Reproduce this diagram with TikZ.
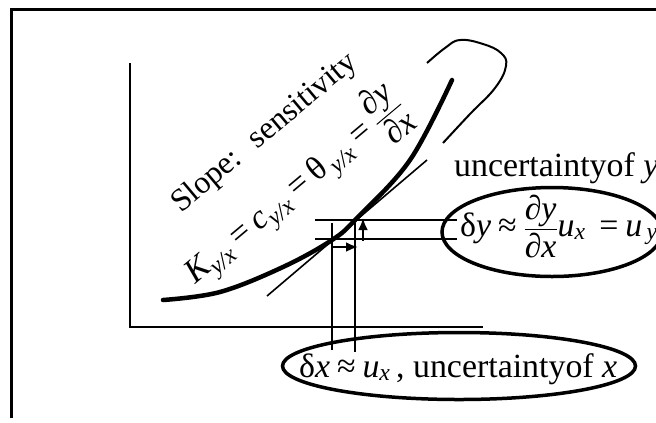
\documentclass[tikz,border=0pt]{standalone}
\usepackage{amsmath}
\usepackage{fontspec}
\setmainfont{Liberation Serif}
\usetikzlibrary{arrows.meta,shapes.geometric}
\newcommand{\iv}[1]{\text{\itshape #1}}
\newcommand{\apx}{\mathrel{\text{≈}}}
\newcommand{\eqs}{\mathrel{\text{=}}}

\begin{document}
\begin{tikzpicture}[x=1bp,y=-1bp,
  guide/.style={line width=2bp},
  oval/.style={draw, ellipse, line width=3.5bp, inner sep=0pt},
  lbl/.style={font=\fontsize{34}{36}\selectfont, inner sep=0pt},
  tip/.style={-{Latex[length=12bp,width=10bp]}, line width=2.5bp}]
  \useasboundingbox (0,0) rectangle (656,422);
  % frame and axes
  \draw[line width=3bp] (11,418) -- (11,9) -- (660,9);
  \draw[line width=2.2bp] (130,63) -- (130,327) -- (483,327);
  % curve, tangent and hook
  \draw[line width=4.5bp, line cap=round] plot[smooth, tension=0.6] coordinates {(163,300) (220,292) (283,267) (332,240) (357,218) (410,160) (452,80)};
  \coordinate (ta) at (267,296);
  \coordinate (tb) at (427,160);
  \draw[line width=1.6bp] (ta) -- (tb);
  \draw[line width=2bp] plot[smooth, tension=0.7] coordinates {(427,63) (445,48) (460,40) (483,44) (501,53) (506,66) (495,88) (470,114) (443,143)};
  % guide lines
  \coordinate (pa) at (332,239);
  \coordinate (pb) at (355,220);
  \draw[guide] (315,220) -- (457,220);
  \draw[guide] (315,239) -- (457,239);
  \draw[guide] (332,223) -- (332,350);
  \draw[guide] (pb) -- (355,352);
  \draw[tip] (363,241) -- (363,218);
  \draw[tip] (332,247) -- (358,247);
  % labels
  \node[lbl, font=\fontsize{32}{34}\selectfont, rotate=40, anchor=base west] (slope) at (181,214) {Slope: \ sensitivity};
  \node[lbl, rotate=40, anchor=base west] (kform) at (195,285)
    {$\iv{K}_{\iv{y/x}} \eqs \iv{c}_{\iv{y/x}} \eqs \text{θ}_{\,\iv{y/x}} \eqs \dfrac{\text{∂}\iv{y}}{\text{∂}\iv{x}}$};
  \node[lbl, anchor=base west] (uy) at (454,176) {uncertaintyof \textit{y}};
  \node[oval, minimum width=220bp, minimum height=89bp] (ey) at (552,232) {};
  \node[lbl, anchor=base west] (dyform) at (460,236)
    {$\text{δ}\iv{y} \apx \dfrac{\text{∂}\iv{y}}{\text{∂}\iv{x}}\iv{u}_{\iv{x}}\; \eqs \iv{u}_{\,\iv{y}}$};
  \node[oval, minimum width=353bp, minimum height=67bp] (ex) at (459,366) {};
  \node[lbl, anchor=base west] (dxform) at (299,377)
    {$\text{δ}\iv{x} \apx \iv{u}_{\iv{x}}$\,, uncertaintyof \textit{x}};
\end{tikzpicture}
\end{document}
